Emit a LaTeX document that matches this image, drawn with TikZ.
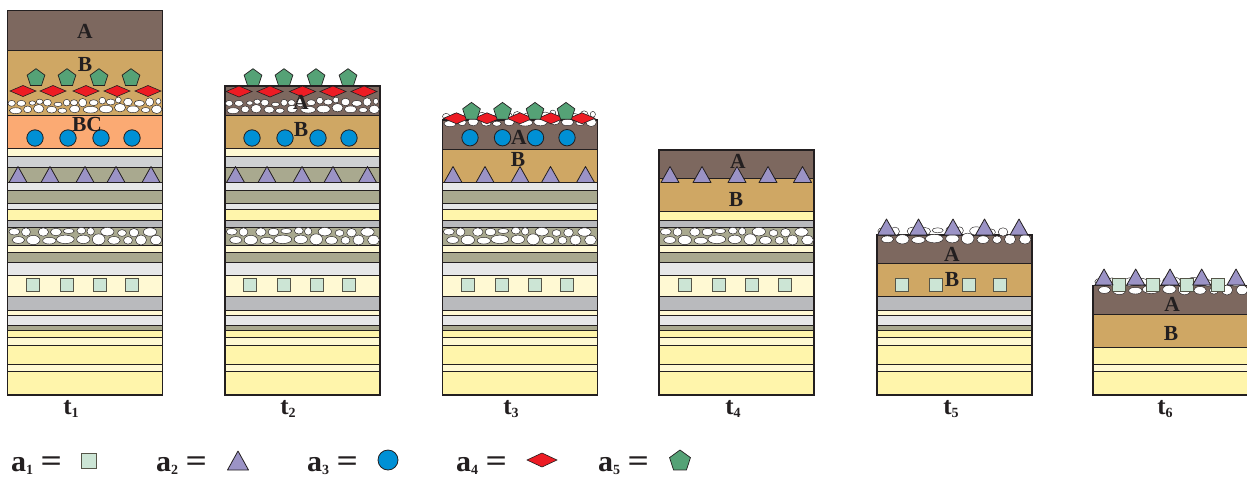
\documentclass[tikz,border=0pt]{standalone}
\usepackage{fontspec}
\usepackage{graphicx}
\setmainfont{Liberation Serif}
\definecolor{ink}{HTML}{231F20}
\definecolor{cA}{HTML}{7D685F}
\definecolor{cB}{HTML}{CFA764}
\definecolor{cBC}{HTML}{FBAA73}
\definecolor{cream}{HTML}{FFF9D3}
\definecolor{yel}{HTML}{FFF5AB}
\definecolor{gra}{HTML}{CFD1D3}
\definecolor{grb}{HTML}{B9BABD}
\definecolor{lgr}{HTML}{E6E7E8}
\definecolor{oli}{HTML}{A9A98F}
\definecolor{csq}{HTML}{CCE5D5}
\definecolor{ctri}{HTML}{9B93C6}
\definecolor{ccir}{HTML}{0090D5}
\definecolor{cdia}{HTML}{ED1C24}
\definecolor{cpen}{HTML}{55A276}
\tikzset{
  lay/.style={draw=ink,line width=0.9pt},
  frame/.style={draw=ink,line width=1.3pt},
  peb/.style={draw=ink,fill=white,line width=0.45pt},
  sqsym/.style={draw=black!50!oli,fill=csq,line width=0.9pt},
  trisym/.style={draw=ink,fill=ctri,line width=0.8pt,line join=round},
  cirsym/.style={draw=ink,fill=ccir,line width=0.8pt},
  diasym/.style={draw=ink,fill=cdia,line width=0.6pt},
  pensym/.style={draw=ink,fill=cpen,line width=0.7pt},
  hor/.style={font=\fontsize{21.5}{21.5}\selectfont\bfseries,text=ink,inner sep=0pt},
  tlab/.style={font=\fontsize{25}{25}\selectfont\bfseries,text=ink,inner sep=0pt},
  leg/.style={font=\fontsize{30}{30}\selectfont\bfseries,text=ink,inner sep=0pt,anchor=base west},
}
\newcommand\lowsub[2]{\raisebox{#1}{\fontsize{14}{14}\selectfont #2}}
\newcommand\wideeq{\scalebox{1.25}[1.05]{=}}
\newcommand\strata[2]{%
  \foreach \ya/\yb/\cc in {371.7/395/yel,364.3/371.7/cream,345.7/364.3/yel,337.7/345.7/cream,
    330/337.7/yel,325/330/oli,315/325/lgr,310/315/cream,296/310/grb,275.3/296/cream,
    262.3/275.3/lgr,252.7/262.3/oli,245.3/252.7/cream,227/245.3/oli,220/227/grb,209.3/220/yel,
    203/209.3/lgr,190.3/203/oli,182.7/190.3/lgr,167.3/182.7/oli,156.7/167.3/gra,148.3/156.7/cream}{%
    \ifdim\ya pt>\dimexpr#2pt-0.5pt\relax
      \path[lay,fill=\cc] (#1,\ya) rectangle ({#1+155},\yb);
    \fi}}
\newcommand\band[4]{\path[lay,fill=#4] (#1,#2) rectangle ({#1+155},#3);}
\newcommand\outl[2]{\path[frame] (#1,#2) rectangle ({#1+155},395);}
\newcommand\pebA[2]{\foreach \a/\b/\c/\d in {35/310/10/7,64/310/12/7,97/309/9/5,119/305/9/6,142/308/11/8,174/313/11/5,200/308/9/8,222/308/10/7,248/308/11/10,281/308/12/7,307/302/9/8,332/306/12/7,355/300/8/7,384/306/12/9,418/310/14/7,449/306/11/10,475/304/7/7,47/332/17/7,83/328/11/8,116/326/14/10,155/329/14/8,187/332/12/6,224/327/14/9,272/329/20/8,318/327/18/9,360/323/15/10,399/328/17/8,437/330/12/6,470/328/14/10}{%
  \path[peb] ({#1+\a/3},{#2+\b/3}) ellipse [x radius=\c*0.37,y radius=\d*0.42];}}
\newcommand\pebB[2]{\foreach \a/\b/\c/\d in {43/695/15/8,78/696/12/10,130/696/14/10,168/696/15/9,206/693/15/6,244/692/12/8,272/694/10/9,322/695/18/10,366/699/12/8,402/698/13/10,450/696/18/10,55/720/17/8,100/720/18/11,148/722/18/8,196/718/24/10,250/718/18/10,296/718/17/13,342/721/17/9,384/721/12/9,423/720/15/12,468/720/16/11}{%
  \path[peb] ({#1+\a/3},{#2+\b/3}) ellipse [x radius=\c*0.37,y radius=\d*0.42];}}
\newcommand\sqm[2]{\path[sqsym] ({#1-6.5},{#2-6.5}) rectangle ({#1+6.5},{#2+6.5});}
\newcommand\trim[2]{\path[trisym] ({#1-9},#2) -- (#1,{#2-16}) -- ({#1+9},#2) -- cycle;}
\newcommand\cirm[2]{\path[cirsym] (#1,#2) circle [radius=8.2];}
\newcommand\diam[2]{\path[diasym] ({#1-13},#2) -- (#1,{#2-5.5}) -- ({#1+13},#2) -- (#1,{#2+5.5}) -- cycle;}
\newcommand\penm[2]{\path[pensym,shift={(#1,#2)}] (-90:9.3) -- (-18:9.3) -- (54:9.3) -- (126:9.3) -- (198:9.3) -- cycle;}
\begin{document}
\begin{tikzpicture}[x=1pt,y=-1pt]
\useasboundingbox (0,0) rectangle (1247,477);
\begin{scope}
\clip (0,0) rectangle (1247,477);
% t1
\strata{7.5}{148}
\band{7.5}{115.7}{148.3}{cBC}
\band{7.5}{50.7}{115.7}{cB}
\band{7.5}{10.3}{50.7}{cA}
\outl{7.5}{10.3}
\pebA{0}{0}
\pebB{0}{0}
\foreach \x in {33,67,100,132} {\sqm{\x}{285}}
\foreach \x in {18,50,85,116,151} {\trim{\x}{182.5}}
\foreach \x in {35,68,101,132} {\cirm{\x}{138}}
\foreach \x in {23,53,86,117,148} {\diam{\x}{91}}
\foreach \x in {36,67,99,131} {\penm{\x}{78}}
% t2
\strata{225}{148}
\band{225}{115}{148}{cB}
\band{225}{86}{115}{cA}
\outl{225}{86}
\pebA{217.5}{0}
\pebB{217.5}{0}
\foreach \x in {250,284,317,349} {\sqm{\x}{285}}
\foreach \x in {235.5,267,302,333,367.5} {\trim{\x}{182.5}}
\foreach \x in {252,285,318,349} {\cirm{\x}{138}}
\foreach \x in {239,270,302.5,333,364} {\diam{\x}{91.5}}
\foreach \x in {253,284,316,348} {\penm{\x}{78}}
% t3
\strata{442.5}{182}
\band{442.5}{149}{182.5}{cB}
\band{442.5}{120}{149}{cA}
\outl{442.5}{120}
\pebA{434.5}{13}
\pebB{434.5}{0}
\foreach \x in {468,502,535,567} {\sqm{\x}{285}}
\foreach \x in {453,485,520,550.5,585.5} {\trim{\x}{182.5}}
\foreach \x in {470,502.5,535.5,567} {\cirm{\x}{137.7}}
\foreach \x in {456.5,487,520,551,582} {\diam{\x}{118.3}}
\foreach \x in {471.5,502.5,535,566} {\penm{\x}{111.7}}
% t4
\strata{659}{209}
\band{659}{178}{211}{cB}
\band{659}{150}{178}{cA}
\path[lay,fill=yel] (659,211) rectangle (814,220);
\outl{659}{150}
\pebB{651.5}{0}
\foreach \x in {685,719,752,785} {\sqm{\x}{285}}
\foreach \x in {670,702,737,768,802.5} {\trim{\x}{182.5}}
% t5
\strata{877}{296}
\band{877}{263.3}{296.5}{cB}
\band{877}{235}{263.3}{cA}
\outl{877}{235}
\pebB{869}{-0.7}
\foreach \x in {902,936,969,1000} {\sqm{\x}{285}}
\foreach \x in {886.5,918.5,953,984.5,1019} {\trim{\x}{235}}
% t6
\strata{1093}{364}
\path[lay,fill=yel] (1093,347) rectangle (1248,364.3);
\band{1093}{314}{347}{cB}
\band{1093}{285.5}{314}{cA}
\outl{1093}{285.5}
\pebB{1086}{50}
\foreach \x in {1119,1153,1187,1218} {\sqm{\x}{285}}
\foreach \x in {1104,1135.7,1170,1201.7,1236} {\trim{\x}{285}}
\end{scope}
% horizon labels
\node[hor] (a1) at (85,31) {A};
\node[hor] (b1) at (85,64) {B};
\node[hor] (bc1) at (87,124) {BC};
\node[hor] (a2) at (301,102) {A};
\node[hor] (b2) at (301,129) {B};
\node[hor] (a3) at (519,137.5) {A};
\node[hor] (b3) at (518,159) {B};
\node[hor] (a4) at (738,161) {A};
\node[hor] (b4) at (736,199) {B};
\node[hor] (a5) at (952,254) {A};
\node[hor] (b5) at (952,279) {B};
\node[hor] (a6) at (1172,304.5) {A};
\node[hor] (b6) at (1171,333) {B};
% time labels
\node[tlab,anchor=base] (t1) at (71,414) {t\lowsub{-3pt}{1}};
\node[tlab,anchor=base] (t2) at (288,414) {t\lowsub{-3pt}{2}};
\node[tlab,anchor=base] (t3) at (511,414) {t\lowsub{-3pt}{3}};
\node[tlab,anchor=base] (t4) at (733,414) {t\lowsub{-3pt}{4}};
\node[tlab,anchor=base] (t5) at (951,414) {t\lowsub{-3pt}{5}};
\node[tlab,anchor=base] (t6) at (1165,414) {t\lowsub{-3pt}{6}};
% legend
\node[leg] (k1) at (11,471) {a\lowsub{-3pt}{1} \wideeq};
\node[leg] (k2) at (156,471) {a\lowsub{-3pt}{2} \wideeq};
\node[leg] (k3) at (307,471) {a\lowsub{-3pt}{3} \wideeq};
\node[leg] (k4) at (456,471) {a\lowsub{-3pt}{4} \wideeq};
\node[leg] (k5) at (598,471) {a\lowsub{-3pt}{5} \wideeq};
\path[sqsym] (81.5,453) rectangle (96.5,468);
\path[trisym] (227.5,470) -- (238,451) -- (248.5,470) -- cycle;
\path[cirsym] (388,460) circle [radius=10];
\path[diasym] (527,460) -- (542,453) -- (557,460) -- (542,467) -- cycle;
\path[pensym,shift={(680,461)}] (-90:11) -- (-18:11) -- (54:11) -- (126:11) -- (198:11) -- cycle;
\end{tikzpicture}
\end{document}
